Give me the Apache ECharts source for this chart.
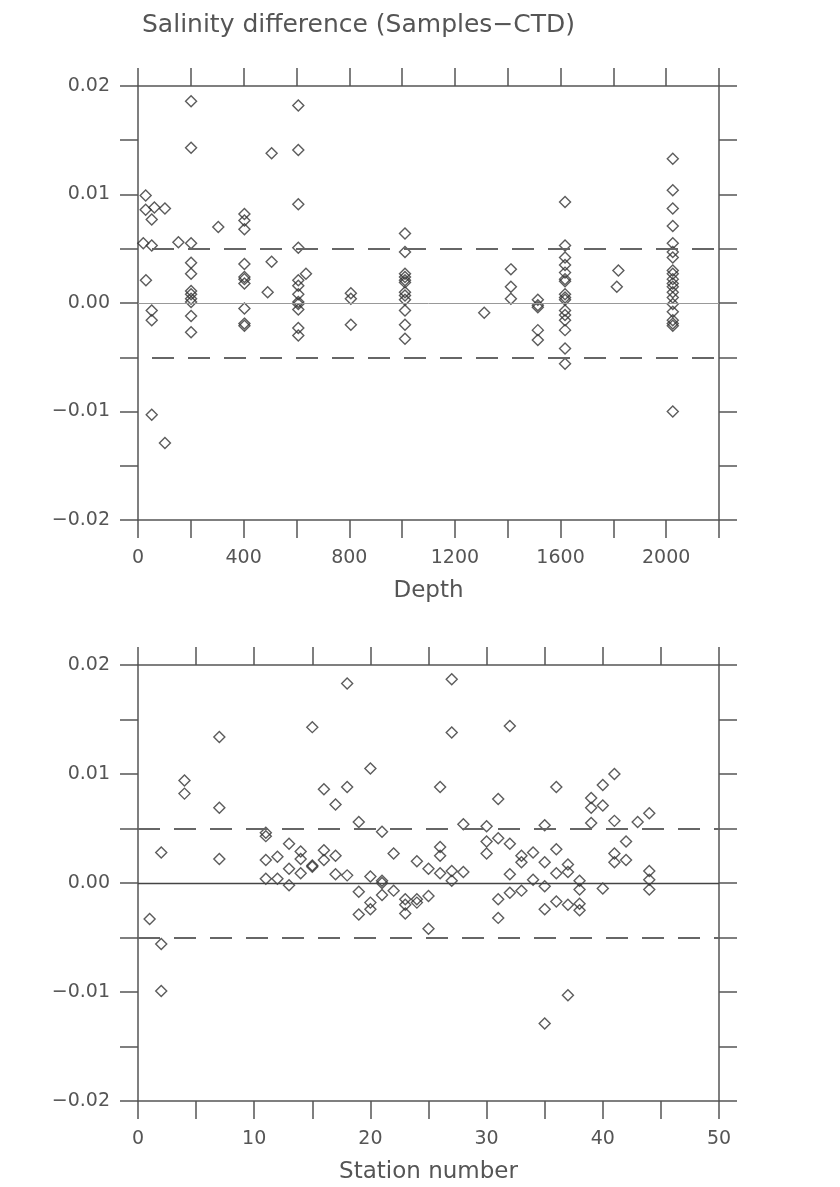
<!DOCTYPE html>
<html>
<head>
<meta charset="utf-8">
<title>Salinity difference (Samples−CTD)</title>
<script src="https://cdn.jsdelivr.net/npm/echarts@6/dist/echarts.min.js"></script>
<style>
  html, body { margin: 0; padding: 0; background: #ffffff; }
  #chart { width: 840px; height: 1187px; }
</style>
</head>
<body>
<div id="chart"></div>
<script>
// Salinity difference (bottle sample minus CTD) against sample depth
const sampleDepth = [
  20, 29, 29, 30, 52, 52, 52, 52, 52, 62, 102, 102, 153,
  201, 201, 201, 201, 201, 201, 201, 201, 201, 201, 201,
  304,
  403, 403, 403, 403, 403, 403, 403, 403, 403, 403,
  491, 506, 506,
  607, 607, 607, 607, 607, 607, 607, 607, 607, 607, 607, 607,
  636,
  806, 806, 806,
  1011, 1011, 1011, 1011, 1011, 1011, 1011, 1011, 1011, 1011, 1011, 1011,
  1311,
  1412, 1412, 1412,
  1514, 1514, 1514, 1514, 1514,
  1617, 1617, 1617, 1617, 1617, 1617, 1617, 1617, 1617, 1617, 1617, 1617, 1617, 1617, 1617, 1617,
  1813, 1819,
  2025, 2025, 2025, 2025, 2025, 2025, 2025, 2025, 2025, 2025, 2025, 2025, 2025, 2025, 2025, 2025, 2025, 2025, 2025, 2025
];
const depthDiff = [
  0.0055, 0.0099, 0.0086, 0.0021, 0.0077, 0.0053, -0.0007, -0.0016, -0.0103, 0.0088, 0.0087, -0.0129, 0.0056,
  0.0186, 0.0143, 0.0055, 0.0037, 0.0027, 0.0011, 0.0008, 0.0004, 0.0001, -0.0012, -0.0027,
  0.0070,
  0.0082, 0.0076, 0.0068, 0.0036, 0.0024, 0.0022, 0.0018, -0.0005, -0.0019, -0.0021,
  0.0010, 0.0138, 0.0038,
  0.0182, 0.0141, 0.0091, 0.0051, 0.0021, 0.0016, 0.0008, 0.0001, -0.0001, -0.0006, -0.0023, -0.0030,
  0.0027,
  0.0009, 0.0004, -0.0020,
  0.0064, 0.0047, 0.0027, 0.0024, 0.0021, 0.0019, 0.0010, 0.0007, 0.0003, -0.0007, -0.0020, -0.0033,
  -0.0009,
  0.0031, 0.0015, 0.0004,
  0.0003, -0.0002, -0.0004, -0.0025, -0.0034,
  0.0093, 0.0053, 0.0042, 0.0035, 0.0028, 0.0022, 0.0020, 0.0008, 0.0005, 0.0003, -0.0007, -0.0011, -0.0016, -0.0025, -0.0042, -0.0056,
  0.0015, 0.0030,
  0.0133, 0.0104, 0.0087, 0.0071, 0.0055, 0.0047, 0.0042, 0.0030, 0.0027, 0.0022, 0.0018, 0.0015, 0.0010, 0.0005, -0.0001, -0.0008, -0.0016, -0.0019, -0.0021, -0.0100
];

// The same differences against station number
const stationNumber = [
  1, 2, 2, 2, 4, 4, 7, 7, 7,
  11, 11, 11, 11, 12, 12, 13, 13, 13, 14, 14, 14, 15, 15, 15,
  16, 16, 16, 17, 17, 17, 18, 18, 18, 19, 19, 19,
  20, 20, 20, 20, 21, 21, 21, 21, 22, 22, 23, 23, 23, 24, 24, 24, 25, 25, 25,
  26, 26, 26, 26, 27, 27, 27, 27, 28, 28,
  30, 30, 30, 31, 31, 31, 31, 32, 32, 32, 32, 33, 33, 33, 34, 34,
  35, 35, 35, 35, 35, 36, 36, 36, 36, 37, 37, 37, 37, 38, 38, 38, 38,
  39, 39, 39, 40, 40, 40, 41, 41, 41, 41, 42, 42, 43, 44, 44, 44, 44
];
const stationDiff = [
  -0.0033, 0.0028, -0.0056, -0.0099, 0.0094, 0.0082, 0.0134, 0.0069, 0.0022,
  0.0046, 0.0043, 0.0021, 0.0004, 0.0024, 0.0004, 0.0036, 0.0013, -0.0002, 0.0029, 0.0022, 0.0009, 0.0143, 0.0016, 0.0015,
  0.0086, 0.0030, 0.0021, 0.0072, 0.0025, 0.0008, 0.0183, 0.0088, 0.0007, 0.0056, -0.0008, -0.0029,
  0.0105, 0.0006, -0.0018, -0.0024, 0.0047, 0.0002, 0.0000, -0.0011, 0.0027, -0.0007, -0.0015, -0.0020, -0.0028, 0.0020, -0.0015, -0.0018, 0.0013, -0.0012, -0.0042,
  0.0088, 0.0033, 0.0025, 0.0009, 0.0187, 0.0138, 0.0011, 0.0002, 0.0054, 0.0010,
  0.0052, 0.0038, 0.0027, 0.0077, 0.0041, -0.0015, -0.0032, 0.0144, 0.0036, 0.0008, -0.0009, 0.0025, 0.0019, -0.0007, 0.0028, 0.0003,
  0.0053, 0.0019, -0.0003, -0.0024, -0.0129, 0.0088, 0.0031, 0.0009, -0.0017, 0.0017, 0.0010, -0.0020, -0.0103, 0.0002, -0.0006, -0.0019, -0.0025,
  0.0078, 0.0069, 0.0055, 0.0090, 0.0071, -0.0005, 0.0100, 0.0057, 0.0027, 0.0019, 0.0038, 0.0021, 0.0056, 0.0064, 0.0011, 0.0003, -0.0006
];

const diffLimits = [-0.005, 0.005];
const titleText = 'Salinity difference (Samples\u2212CTD)';

const ink = '#555555';
const fontFamily = '"DejaVu Sans", sans-serif';
const labelFont = { color: ink, fontFamily: fontFamily, fontSize: 19 };

function diffLabel(v) {
  const k = Math.round(v * 1000);
  if (k % 10 !== 0) return '';
  return (k < 0 ? '\u2212' : '') + Math.abs(k / 1000).toFixed(2);
}

function frameAxis(extra) {
  return Object.assign({
    type: 'value',
    axisLine: { show: true, onZero: false, lineStyle: { color: ink, width: 1.5 } },
    axisTick: { show: true, inside: false, length: 18, lineStyle: { color: ink, width: 1.5 } },
    splitLine: { show: false },
    axisLabel: { show: false }
  }, extra);
}

function xAxes(gridIndex, max, interval, labelEvery, name) {
  return [
    frameAxis({
      gridIndex: gridIndex, position: 'bottom', min: 0, max: max, interval: interval,
      name: name, nameLocation: 'middle', nameGap: 60,
      nameTextStyle: { color: ink, fontFamily: fontFamily, fontSize: 23 },
      axisLabel: Object.assign({
        show: true, margin: 29,
        formatter: function (v) { return v % labelEvery === 0 ? String(v) : ''; }
      }, labelFont)
    }),
    frameAxis({ gridIndex: gridIndex, position: 'top', min: 0, max: max, interval: interval })
  ];
}

function yAxes(gridIndex) {
  return [
    frameAxis({
      gridIndex: gridIndex, position: 'left', min: -0.02, max: 0.02, interval: 0.005,
      axisLabel: Object.assign({ show: true, margin: 28, formatter: diffLabel }, labelFont)
    }),
    frameAxis({ gridIndex: gridIndex, position: 'right', min: -0.02, max: 0.02, interval: 0.005 })
  ];
}

function scatterSeries(axisIndex, xs, ys, zeroStyle, dashOffset) {
  const dashed = { color: '#666666', width: 2, type: [22, 14], dashOffset: dashOffset };
  return {
    type: 'scatter',
    xAxisIndex: axisIndex, yAxisIndex: axisIndex,
    data: xs.map(function (x, i) { return [x, ys[i]]; }),
    symbol: 'diamond',
    symbolSize: 11,
    itemStyle: { color: 'rgba(0,0,0,0)', borderColor: '#333333', borderWidth: 1.4 },
    markLine: {
      silent: true,
      symbol: 'none',
      precision: 6,
      label: { show: false },
      animation: false,
      data: [
        { yAxis: 0, lineStyle: zeroStyle },
        { yAxis: diffLimits[0], lineStyle: dashed },
        { yAxis: diffLimits[1], lineStyle: dashed }
      ]
    }
  };
}

const chart = echarts.init(document.getElementById('chart'), null, { renderer: 'canvas' });
chart.setOption({
  backgroundColor: '#ffffff',
  animation: false,
  title: {
    text: titleText,
    left: 137, top: 8,
    textStyle: { color: ink, fontFamily: fontFamily, fontSize: 25, fontWeight: 'normal' }
  },
  grid: [
    { left: 138, top: 86, width: 581, height: 434 },
    { left: 138, top: 665, width: 581, height: 436 }
  ],
  xAxis: xAxes(0, 2200, 200, 400, 'Depth').concat(xAxes(1, 50, 5, 10, 'Station number')),
  yAxis: yAxes(0).concat(yAxes(1)),
  series: [
    scatterSeries(0, sampleDepth, depthDiff, { color: '#999999', width: 1, type: 'solid' }, 22),
    scatterSeries(2, stationNumber, stationDiff, { color: '#444444', width: 1.4, type: 'solid' }, 0)
  ]
});
</script>
</body>
</html>
